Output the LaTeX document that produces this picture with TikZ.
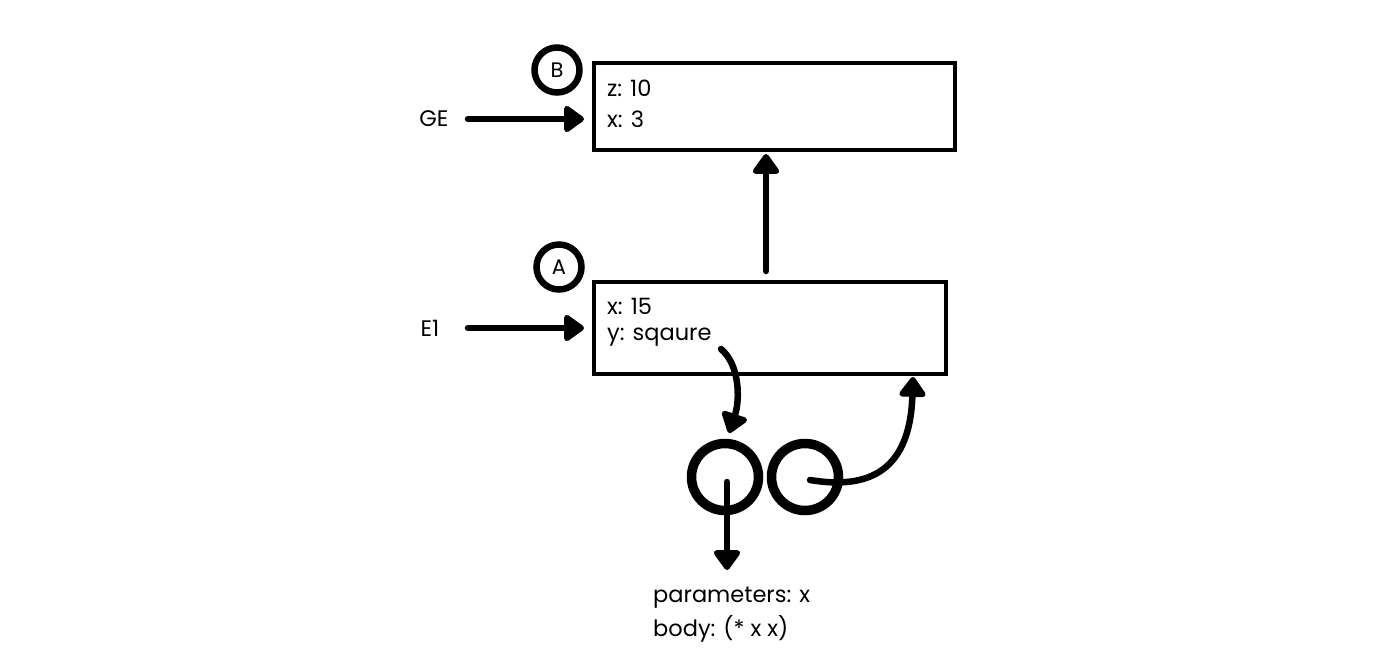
\documentclass[tikz,border=0pt]{standalone}
\usepackage{fontspec}
\setmainfont{Poppins}
\usetikzlibrary{arrows.meta}
\begin{document}
\begin{tikzpicture}[x=1pt,y=-1pt,
  frame/.style={draw,line width=4pt,inner sep=0pt},
  lbl/.style={circle,draw,line width=6.5pt,minimum size=45pt,inner sep=0pt,font=\fontsize{21}{21}\selectfont},
  obj/.style={circle,draw,line width=9.5pt,minimum size=67pt,inner sep=0pt},
  arr/.style={line width=6.5pt,line cap=round,-{Triangle[length=22pt,width=30pt,round]}},
  txt/.style={inner sep=0pt,anchor=west,font=\fontsize{22.5}{22.5}\selectfont}
]
\useasboundingbox (0,0) rectangle (1390,662);
% boxes
\node[frame,minimum width=361pt,minimum height=87pt] (B) at (774.5,106.5) {};
\node[frame,minimum width=352pt,minimum height=92pt] (A) at (770,328) {};
\node[lbl] (cB) at (557,70) {B};
\node[lbl] (cA) at (559,267) {A};
% texts
\node[txt] (z10) at (607,88) {z: 10};
\node[txt] (x3) at (607,119) {x: 3};
\node[txt] (x15) at (607,306) {x: 15};
\node[txt] (ysq) at (607,337) {y: sqaure};
\node[txt,anchor=center] (GE) at (434,119) {GE};
\node[txt,anchor=center] (E1) at (430,328) {E1};
% closure
\node[obj] (L) at (725,477) {};
\node[obj] (R) at (805,477) {};
\node[txt] (par) at (653,598) {parameters: x};
\node[txt] (body) at (653,629) {body: (* x x)};
% connectors
\coordinate (GEs) at (468,119);
\coordinate (GEe) at (584,119);
\coordinate (E1s) at (468,328);
\coordinate (E1e) at (584,328);
\draw[arr] (GEs) -- (GEe);
\draw[arr] (E1s) -- (E1e);
\coordinate (Au) at (766,271);
\coordinate (Bd) at (766,154);
\draw[arr] (Au) -- (Bd);
\coordinate (ys) at (721,349);
\coordinate (lt) at (729,433);
\draw[arr] (ys) .. controls (740,365) and (740,400) .. (lt);
\coordinate (lc) at (727,482);
\coordinate (ld) at (727,570);
\draw[arr] (lc) -- (ld);
\coordinate (rc) at (810,480);
\coordinate (ab) at (913,377);
\draw[arr] (rc) .. controls (870,490) and (910,470) .. (ab);
\end{tikzpicture}
\end{document}
